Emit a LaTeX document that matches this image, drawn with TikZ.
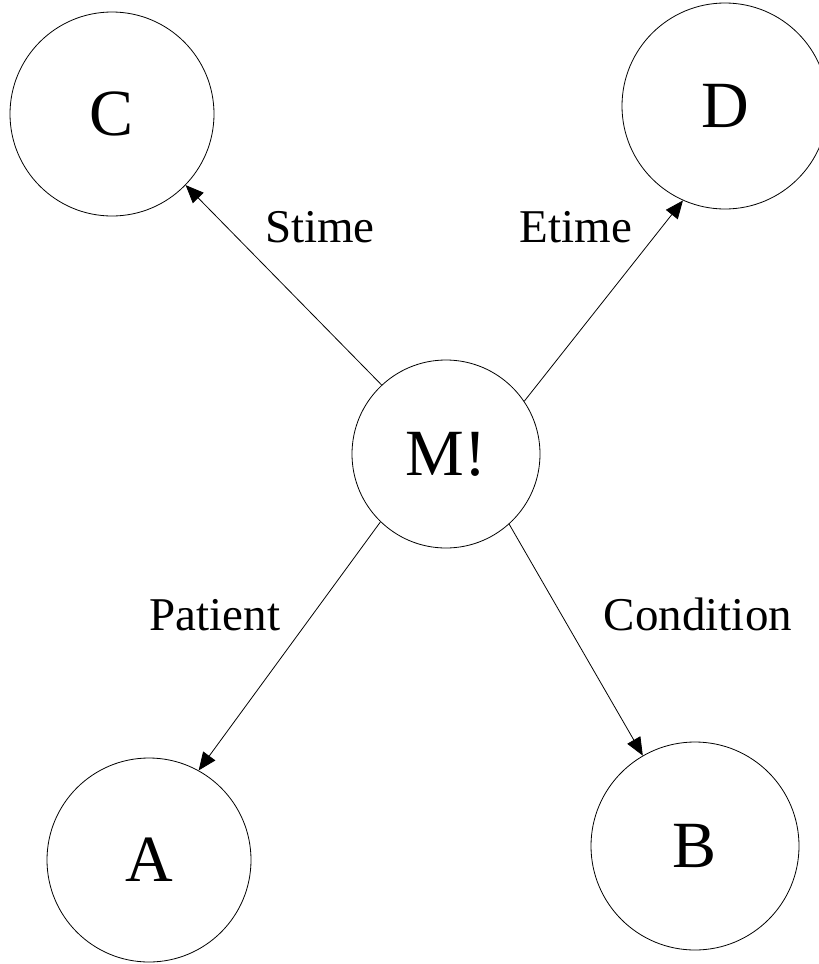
\documentclass[tikz,border=0pt]{standalone}
\usepackage{fontspec}
\setmainfont{Liberation Serif}
\usetikzlibrary{arrows.meta}

\begin{document}
\begin{tikzpicture}[x=1pt, y=-1pt, line width=0.8pt,
        state/.style={draw, circle, inner sep=0pt, font=\fontsize{66}{66}\selectfont},
        rel/.style={anchor=base, font=\fontsize{47}{47}\selectfont},
        >={Triangle[length=18pt, width=15pt]}]
            \useasboundingbox (0, 0) rectangle (819, 964);
            \node[state, minimum size=204pt] (c) at (112, 114) {C};
            \node[state, minimum size=206pt] (d) at (725, 106) {D};
            \node[state, minimum size=188pt] (m) at (446, 454) {M!};
            \node[state, minimum size=204pt] (a) at (149, 860) {A};
            \node[state, minimum size=208pt] (b) at (695, 846) {B};
            \draw[->] (m.133) -- (c.316);
            \draw[->] (m.34) -- (d.246);
            \draw[->] (m.226) -- (a.61);
            \draw[->] (m.312) -- (b.120);
            \node[rel] (stime) at (320, 242) {Stime};
            \node[rel] (etime) at (576, 242) {Etime};
            \node[rel] (patient) at (215, 630) {Patient};
            \node[rel] (condition) at (698, 630) {Condition};
        \end{tikzpicture}
\end{document}
